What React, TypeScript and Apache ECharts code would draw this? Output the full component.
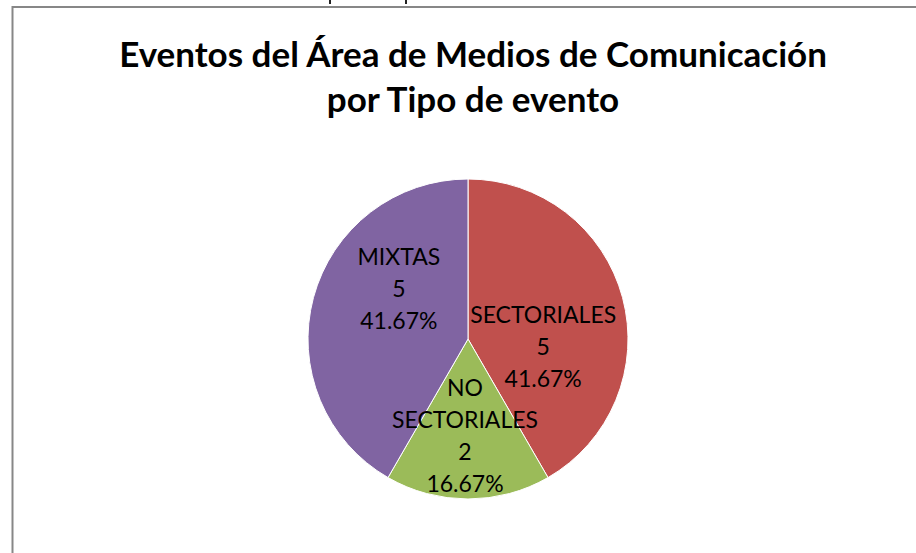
import React, { useEffect, useRef } from "react";
import * as echarts from "echarts";

const categories = ["SECTORIALES", "NO SECTORIALES", "MIXTAS"];
const values = [5, 2, 5];
const colors = ["#C0504D", "#9BBB59", "#8064A2"];
const titleText = "Eventos del Área de Medios de Comunicación\npor Tipo de evento";
// label nudges (dx, dy) per slice, mimicking the reference's "best fit" placement
const labelShifts = [
  [-5, 28],
  [-3, 13],
  [11, -30],
];

export default function App() {
  const ref = useRef<HTMLDivElement>(null);
  useEffect(() => {
    document.body.style.margin = "0";
    const total = values.reduce((a, b) => a + b, 0);
    const chart = echarts.init(ref.current!, null, { renderer: "svg" });
    chart.setOption({
      animation: false,
      backgroundColor: "#ffffff",
      title: {
        text: titleText,
        left: 468,
        top: 25,
        textAlign: "center",
        textStyle: {
          fontFamily: "Lato",
          fontWeight: "bold",
          fontSize: 35,
          lineHeight: 45,
          color: "#000000",
        },
      },
      graphic: [
        {
          type: "rect",
          shape: { x: 12.5, y: 7, width: 1000, height: 1000 },
          style: { fill: "none", stroke: "#878787", lineWidth: 2 },
          silent: true,
        },
        {
          type: "line",
          shape: { x1: 330, y1: 0, x2: 330, y2: 4 },
          style: { stroke: "#222", lineWidth: 2 },
        },
        {
          type: "line",
          shape: { x1: 406, y1: 0, x2: 406, y2: 4 },
          style: { stroke: "#222", lineWidth: 2 },
        },
      ],
      series: [
        {
          type: "pie",
          center: [468, 339],
          radius: 160,
          startAngle: 90,
          clockwise: true,
          color: colors,
          data: categories.map((c, i) => ({ name: c, value: values[i] })),
          itemStyle: { borderColor: "#ffffff", borderWidth: 1 },
          label: {
            show: true,
            position: "inside",
            formatter: (p: any) =>
              `${p.name.replace(" ", "\n")}\n${p.value}\n${((p.value / total) * 100).toFixed(2)}%`,
            fontFamily: "Lato",
            fontSize: 23,
            lineHeight: 32,
            color: "#000000",
          },
          labelLayout: (p: any) => ({
            dx: labelShifts[p.dataIndex][0],
            dy: labelShifts[p.dataIndex][1],
          }),
          labelLine: { show: false },
          emphasis: { disabled: true },
        },
      ],
    });
    return () => chart.dispose();
  }, []);
  return <div ref={ref} style={{ width: 916, height: 553 }} />;
}
